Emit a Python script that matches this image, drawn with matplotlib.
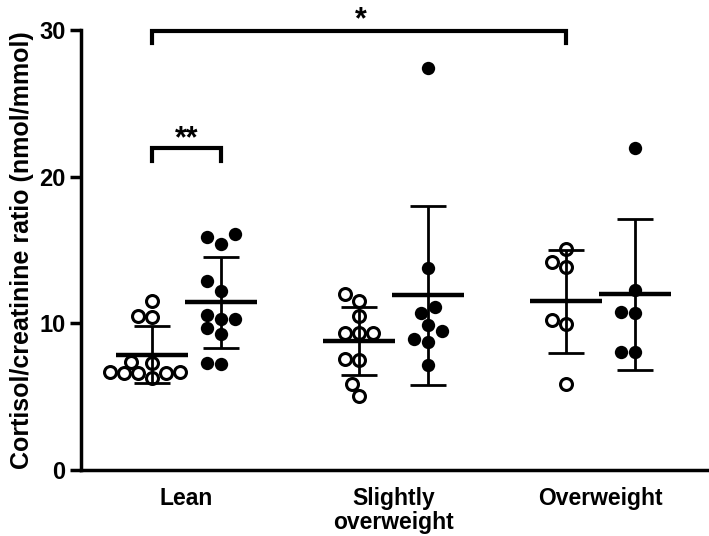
import numpy as np
import matplotlib
matplotlib.use('Agg')
from matplotlib import pyplot as plt

plt.rcParams['font.family'] = ['Liberation Sans', 'DejaVu Sans']
plt.rcParams['font.weight'] = 'bold'

# Данные
groups = ['Lean', 'Slightly\noverweight', 'Overweight']
lean_open = [11.5, 10.5, 10.45, 7.3, 7.35, 6.6, 6.7, 6.6, 6.6, 6.7, 6.3]
lean_closed = [16.1, 15.9, 15.4, 12.9, 12.2, 10.6, 10.3, 10.3, 9.7, 9.3, 7.2, 7.3]
slight_open = [12.0, 11.55, 10.5, 9.35, 9.35, 9.35, 7.55, 7.5, 5.85, 5.05]
slight_closed = [27.4, 13.75, 11.1, 10.7, 9.9, 9.45, 8.9, 8.75, 7.15]
over_open = [15.1, 14.15, 13.85, 10.2, 9.95, 5.85]
over_closed = [21.95, 12.3, 10.8, 10.7, 8.05, 8.05]

open_sets = [lean_open, slight_open, over_open]
closed_sets = [lean_closed, slight_closed, over_closed]

fig = plt.figure(figsize=(7.09, 5.36), dpi=100)
ax = fig.add_axes([0.1142, 0.1231, 0.8844, 0.8209])
ax.set_xlim(-0.51, 2.52)
ax.set_ylim(0, 30)


def swarm_offsets(values, step_px=7.0, diam_px=12.5):
	# простая раскладка точек, чтобы они не перекрывались
	ys = ax.transData.transform(np.column_stack([np.zeros(len(values)), values]))[:, 1]
	px_per_unit = ax.transData.transform((1, 0))[0] - ax.transData.transform((0, 0))[0]
	offs = np.zeros(len(values))
	placed = []
	for i in np.argsort(values):
		k = 0
		done = False
		while not done:
			for cand in ([0] if k == 0 else [-k, k]):
				x = cand * step_px
				if all((x - px) ** 2 + (ys[i] - py) ** 2 >= diam_px ** 2 for px, py in placed):
					placed.append((x, ys[i]))
					offs[i] = x / px_per_unit
					done = True
					break
			k += 1
	return offs


shift = 0.165
for g in range(3):
	for vals, dx, filled in [(open_sets[g], -shift, False), (closed_sets[g], shift, True)]:
		vals = np.array(vals)
		xc = g + dx
		xs = xc + swarm_offsets(vals)
		if filled:
			ax.plot(xs, vals, 'o', ms=9.6, mfc='black', mec='black', mew=0, clip_on=False, zorder=2)
		else:
			ax.plot(xs, vals, 'o', ms=8.6, mfc='white', mec='black', mew=2.2, clip_on=False, zorder=2)
		m = vals.mean()
		sd = vals.std(ddof=1)
		ax.hlines(m, xc - 0.174, xc + 0.174, colors='black', lw=3.2, zorder=3)
		ax.vlines(xc, m - sd, m + sd, colors='black', lw=2, zorder=3)
		ax.hlines([m - sd, m + sd], xc - 0.087, xc + 0.087, colors='black', lw=2, zorder=3)

# Скобки значимости
ax.plot([-shift, -shift, 2 - shift, 2 - shift], [29.1, 29.95, 29.95, 29.1], color='black', lw=3,
		clip_on=False, solid_joinstyle='miter')
ax.text(0.84, 29.62, '*', ha='center', va='bottom', fontsize=22, fontweight='bold')
ax.plot([-shift, -shift, shift, shift], [21.1, 21.95, 21.95, 21.1], color='black', lw=3,
		clip_on=False, solid_joinstyle='miter')
ax.text(0, 21.55, '**', ha='center', va='bottom', fontsize=22, fontweight='bold')

ax.spines['top'].set_visible(False)
ax.spines['right'].set_visible(False)
ax.spines['left'].set_linewidth(2.5)
ax.spines['bottom'].set_linewidth(2.5)
ax.set_yticks([0, 10, 20, 30])
ax.tick_params(axis='y', length=8, width=2.5, labelsize=17, pad=3)
ax.set_xticks([0, 1, 2])
ax.set_xticklabels(groups, fontsize=16.5, fontweight='bold', linespacing=1.05)
ax.tick_params(axis='x', length=0, pad=12)
ax.set_ylabel('Cortisol/creatinine ratio (nmol/mmol)', fontsize=18, fontweight='bold', labelpad=4)

plt.savefig('out.png', dpi=100)
